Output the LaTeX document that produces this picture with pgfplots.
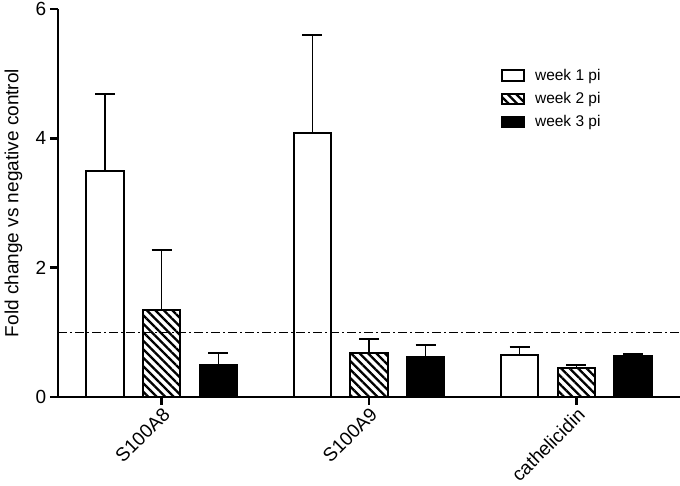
\documentclass[border=0pt]{standalone}
\usepackage{pgfplots}
\pgfplotsset{compat=1.18}
\usepackage{fontspec}
\setmainfont{Liberation Sans}
\usetikzlibrary{patterns.meta,calc}
\begin{document}
\fontsize{19}{23}\selectfont
\begin{tikzpicture}
\begin{axis}[
  scale only axis,
  width=622pt, height=388pt,
  xmin=-0.5, xmax=2.5,
  ymin=0, ymax=6,
  ytick={0,2,4,6},
  xtick={0,1,2},
  xticklabels={S100A8,S100A9,cathelicidin},
  x tick label style={rotate=45, anchor=north east, inner sep=1pt},
  y tick label style={inner sep=0.5pt, xshift=-3pt},
  axis x line*=bottom,
  axis y line*=left,
  axis line style={line width=2.5pt, -},
  tick style={line width=2.5pt, black},
  major tick length=8pt,
  tick align=outside,
  /pgf/number format/assume math mode=true,
  ticklabel style={font=\fontsize{19}{23}\selectfont},
  ylabel={Fold change vs negative control},
  ylabel style={font=\fontsize{19}{23}\selectfont, at={(axis description cs:-0.0715,0.5)}, anchor=center},
  ybar,
  bar width=0.18,
  legend style={draw=none, at={(0.712,0.85)}, anchor=north west,
    font=\fontsize{15.5}{18}\selectfont, row sep=5pt, fill=none, inner sep=0pt},
  legend cell align=left,
  legend image code/.code={\draw[#1, line width=2pt] (0pt,-4.5pt) rectangle (22pt,6pt);
    \path (30pt,0pt);},
  error bars/y dir=plus,
  error bars/y explicit,
  error bars/error bar style={line width=1.3pt, black},
  error bars/error mark options={rotate=90, mark size=10pt, line width=2pt, black},
]
\addplot[bar shift=-0.273, draw=black, fill=white, line width=2pt]
  table[x=x, y=y, y error=e] {
x y e
0 3.50 1.18
1 4.09 1.51
2 0.65 0.12
};
\addlegendentry{week 1 pi}
\addplot[bar shift=0, draw=black, line width=2pt,
  pattern={Lines[angle=-45, distance=6pt, line width=2.3pt]}, pattern color=black]
  table[x=x, y=y, y error=e] {
x y e
0 1.34 0.94
1 0.68 0.22
2 0.45 0.05
};
\addlegendentry{week 2 pi}
\addplot[bar shift=0.273, draw=black, fill=black, line width=2pt]
  table[x=x, y=y, y error=e] {
x y e
0 0.49 0.19
1 0.62 0.18
2 0.63 0.03
};
\addlegendentry{week 3 pi}
\draw[line width=1.3pt, dash pattern=on 9pt off 3pt on 2pt off 3pt]
  (axis cs:-0.5,1) -- (axis cs:2.5,1);
\end{axis}
\pgfresetboundingbox
\path[use as bounding box] ($(current axis.south west)+(-58pt,-89pt)$) rectangle ($(current axis.north east)+(0pt,9pt)$);
\end{tikzpicture}
\end{document}
